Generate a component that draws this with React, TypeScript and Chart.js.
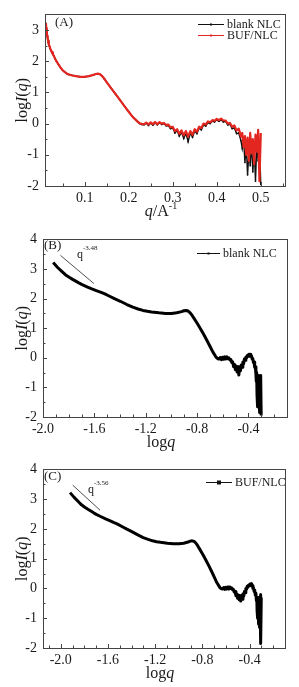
import React, { useEffect, useRef } from "react";
import { Chart, registerables } from "chart.js";
Chart.register(...registerables);

// ---- data ----
const Q = [
  0.012, 0.013, 0.014, 0.015, 0.016, 0.017, 0.018, 0.019, 0.02, 0.022, 0.024, 0.026, 0.028, 0.03,
  0.033, 0.036, 0.04, 0.045, 0.05, 0.055, 0.06, 0.065, 0.07, 0.08, 0.09, 0.1, 0.11, 0.12, 0.125,
  0.13, 0.135, 0.14, 0.145, 0.15, 0.16, 0.17, 0.18, 0.19, 0.2, 0.21, 0.22, 0.225, 0.23,
  0.235, 0.24, 0.245, 0.25, 0.255, 0.26, 0.265, 0.27, 0.275, 0.28, 0.285, 0.29, 0.295, 0.3,
  0.305, 0.31, 0.315, 0.32, 0.325, 0.33, 0.335, 0.34, 0.345, 0.35, 0.355, 0.36, 0.365, 0.37,
  0.375, 0.38, 0.385, 0.39, 0.395, 0.4, 0.405, 0.41, 0.415, 0.42, 0.425, 0.43, 0.435, 0.44,
  0.445, 0.45, 0.455, 0.458, 0.461, 0.464, 0.467, 0.47, 0.473, 0.476, 0.479, 0.482, 0.485,
  0.488, 0.491, 0.494, 0.497, 0.5,
];
const BLANK = [
  3.22, 3.05, 2.92, 2.8, 2.72, 2.65, 2.59, 2.53, 2.48, 2.4, 2.33, 2.27, 2.22, 2.17,
  2.08, 2.0, 1.91, 1.8, 1.71, 1.65, 1.6, 1.57, 1.55, 1.52, 1.5, 1.5, 1.52, 1.56, 1.59,
  1.6, 1.58, 1.52, 1.43, 1.33, 1.14, 0.95, 0.76, 0.57, 0.38, 0.2, 0.06, 0.0, -0.03,
  -0.04, 0.01, -0.06, 0.02, -0.05, 0.03, -0.04, 0.03, -0.03, 0.0, -0.07, -0.06, -0.16, -0.14,
  -0.3, -0.22, -0.4, -0.28, -0.48, -0.3, -0.58, -0.3, -0.44, -0.24, -0.32, -0.14, -0.2, -0.04,
  -0.08, 0.03, 0.0, 0.08, 0.05, 0.12, 0.07, 0.12, 0.05, 0.07, -0.04, -0.02, -0.16, -0.14,
  -0.32, -0.3, -0.55, -0.8, -0.5, -1.25, -0.7, -1.65, -0.9, -1.35, -0.6, -1.55, -0.75,
  -1.85, -0.65, -1.2, -0.6, -1.95,
];
const BUF = [
  3.22, 3.06, 2.93, 2.81, 2.73, 2.66, 2.6, 2.54, 2.49, 2.41, 2.34, 2.28, 2.22, 2.17,
  2.08, 2.0, 1.91, 1.8, 1.71, 1.65, 1.6, 1.57, 1.55, 1.52, 1.5, 1.5, 1.52, 1.56, 1.59,
  1.6, 1.58, 1.52, 1.43, 1.33, 1.14, 0.95, 0.76, 0.57, 0.38, 0.2, 0.07, 0.01, -0.01,
  -0.02, 0.03, -0.03, 0.04, -0.02, 0.05, -0.02, 0.05, 0.0, 0.02, -0.04, -0.03, -0.12, -0.1,
  -0.24, -0.18, -0.33, -0.22, -0.38, -0.24, -0.42, -0.24, -0.36, -0.18, -0.26, -0.1, -0.14, 0.0,
  -0.03, 0.07, 0.04, 0.11, 0.09, 0.15, 0.11, 0.16, 0.1, 0.1, 0.0, 0.02, -0.1, -0.06,
  -0.22, -0.16, -0.42, -0.3, -0.75, -0.4, -1.0, -0.45, -1.2, -0.3, -0.95, -0.5, -1.3,
  -0.35, -0.9, -0.2, -1.85, -0.3,
];
const A_X_TICKS = [0.1, 0.2, 0.3, 0.4, 0.5];
const A_Y_TICKS = [-2, -1, 0, 1, 2, 3];
const LOG_X_TICKS = [-2.0, -1.6, -1.2, -0.8, -0.4];
const LOG_Y_TICKS = [-2, -1, 0, 1, 2, 3, 4];
const SLOPE_B_X = [-1.864, -1.604];
const SLOPE_B_Y = [3.46, 2.51];
const SLOPE_C_X = [-1.898, -1.667];
const SLOPE_C_Y = [3.47, 2.63];
const LABEL_BLANK = "blank NLC";
const LABEL_BUF = "BUF/NLC";
const SLOPE_B_TEXT = "-3.48";
const SLOPE_C_TEXT = "-3.56";

const RED = "#e3261f";
const INK = "#1a1a1a";
const FONT = '"Liberation Serif", "DejaVu Serif", serif';

type Part = { t: string; i?: boolean; sup?: boolean };

function drawRich(ctx: CanvasRenderingContext2D, parts: Part[], x: number, y: number, size: number, align: "left" | "center") {
  const fontFor = (p: Part) => `${p.i ? "italic " : ""}${p.sup ? Math.round(size * 0.62) : size}px ${FONT}`;
  let total = 0;
  const widths = parts.map((p) => {
    ctx.font = fontFor(p);
    const w = ctx.measureText(p.t).width;
    total += w;
    return w;
  });
  let cx = align === "center" ? x - total / 2 : x;
  ctx.textAlign = "left";
  ctx.textBaseline = "alphabetic";
  parts.forEach((p, k) => {
    ctx.font = fontFor(p);
    ctx.fillText(p.t, cx, y + (p.sup ? -size * 0.42 : 0));
    cx += widths[k];
  });
}

type LegendItem = { label: string; color: string; y: number; x0: number; x1: number; marker: "dot" | "rect" };
type Panel = {
  top: number; height: number; yW: number; padTop: number; padRight: number; xH: number;
  xMin: number; xMax: number; yMin: number; yMax: number;
  xTicks: number[]; yTicks: number[]; xMinorStart: number; xMinorStep: number;
  datasets: any[];
  panelLabel: string; panelLabelPos: [number, number];
  xTitle: Part[];
  slopeText?: string; slopePos?: [number, number];
  legend: LegendItem[];
};

const yTitle: Part[] = [{ t: "log" }, { t: "I", i: true }, { t: "(" }, { t: "q", i: true }, { t: ")" }];

function makeChart(canvas: HTMLCanvasElement, p: Panel) {
  const deco = {
    id: "deco",
    afterDraw(chart: any) {
      const ctx: CanvasRenderingContext2D = chart.ctx;
      const { left, top, right, bottom } = chart.chartArea;
      const xs = chart.scales.x;
      const ys = chart.scales.y;
      ctx.save();
      // frame
      ctx.strokeStyle = "#444";
      ctx.lineWidth = 1;
      ctx.strokeRect(Math.round(left) + 0.5, Math.round(top) + 0.5, Math.round(right - left), Math.round(bottom - top));
      // inner ticks
      ctx.beginPath();
      for (let v = p.xMinorStart; v <= p.xMax + 1e-9; v += p.xMinorStep) {
        if (v < p.xMin - 1e-9) continue;
        const px = Math.round(xs.getPixelForValue(v)) + 0.5;
        const major = p.xTicks.some((t) => Math.abs(t - v) < 1e-6);
        ctx.moveTo(px, bottom);
        ctx.lineTo(px, bottom - (major ? 4 : 2.5));
      }
      for (let v = p.yMin; v <= p.yMax + 1e-9; v += 0.5) {
        const py = Math.round(ys.getPixelForValue(v)) + 0.5;
        const major = Math.abs(v - Math.round(v)) < 1e-6;
        ctx.moveTo(left, py);
        ctx.lineTo(left + (major ? 4 : 2.5), py);
      }
      ctx.stroke();
      // titles
      ctx.fillStyle = INK;
      drawRich(ctx, p.xTitle, (left + right) / 2 - 4, bottom + 30, 16, "center");
      ctx.save();
      ctx.translate(27, (top + bottom) / 2);
      ctx.rotate(-Math.PI / 2);
      drawRich(ctx, yTitle, 0, 0, 16, "center");
      ctx.restore();
      // panel label
      ctx.font = `13px ${FONT}`;
      ctx.textBaseline = "middle";
      ctx.textAlign = "left";
      ctx.fillText(p.panelLabel, p.panelLabelPos[0], p.panelLabelPos[1]);
      if (p.slopeText && p.slopePos) {
        drawRich(ctx, [{ t: "q" }], p.slopePos[0], p.slopePos[1], 12, "left");
        ctx.font = `7px ${FONT}`;
        ctx.textBaseline = "alphabetic";
        ctx.fillText(p.slopeText, p.slopePos[0] + 6, p.slopePos[1] - 8);
      }
      // legend
      p.legend.forEach((it) => {
        ctx.strokeStyle = it.color;
        ctx.fillStyle = it.color;
        ctx.lineWidth = 1;
        ctx.beginPath();
        ctx.moveTo(it.x0, it.y + 0.5);
        ctx.lineTo(it.x1, it.y + 0.5);
        ctx.stroke();
        const mx = (it.x0 + it.x1) / 2;
        if (it.marker === "rect") ctx.fillRect(mx - 2, it.y - 1.5, 4, 4);
        else ctx.fillRect(mx - 1, it.y - 0.5, 2, 2);
        ctx.fillStyle = INK;
        ctx.font = `12px ${FONT}`;
        ctx.textBaseline = "middle";
        ctx.textAlign = "left";
        ctx.fillText(it.label, it.x1 + 3, it.y + 1);
      });
      ctx.restore();
    },
  };

  return new Chart(canvas, {
    type: "line",
    data: { datasets: p.datasets },
    options: {
      animation: false,
      responsive: false,
      events: [],
      layout: { padding: { top: p.padTop, right: p.padRight, left: 0, bottom: 0 } },
      plugins: { legend: { display: false }, tooltip: { enabled: false } },
      scales: {
        x: {
          type: "linear",
          min: p.xMin,
          max: p.xMax,
          afterBuildTicks: (s: any) => { s.ticks = p.xTicks.map((v) => ({ value: v })); },
          afterFit: (s: any) => { s.height = p.xH; },
          grid: { display: false, drawTicks: false },
          border: { display: false },
          ticks: { color: INK, font: { family: FONT, size: 14 }, padding: 4, maxRotation: 0, autoSkip: false, callback: (v: any) => Number(v).toFixed(1) },
        },
        y: {
          type: "linear",
          min: p.yMin,
          max: p.yMax,
          afterBuildTicks: (s: any) => { s.ticks = p.yTicks.map((v) => ({ value: v })); },
          afterFit: (s: any) => { s.width = p.yW; },
          grid: { display: false, drawTicks: false },
          border: { display: false },
          ticks: { color: INK, font: { family: FONT, size: 14 }, padding: 6, autoSkip: false, callback: (v: any) => String(v) },
        },
      },
    },
    plugins: [deco],
  } as any);
}

const linPts = (ys: number[]) => Q.map((q, i) => ({ x: q, y: ys[i] }));
const logPts = (ys: number[]) => Q.map((q, i) => ({ x: Math.log10(q), y: ys[i] }));
const slopePts = (xs: number[], ys: number[]) => xs.map((x, i) => ({ x, y: ys[i] }));

const PANELS: Panel[] = [
  {
    top: 0, height: 225, yW: 45, padTop: 7, padRight: 14, xH: 39,
    xMin: 0.01, xMax: 0.555, yMin: -2, yMax: 3.5,
    xTicks: A_X_TICKS, yTicks: A_Y_TICKS, xMinorStart: 0.05, xMinorStep: 0.05,
    datasets: [
      { label: LABEL_BUF, data: linPts(BUF), borderColor: RED, backgroundColor: RED, borderWidth: 2.2, pointRadius: 0, borderJoinStyle: "round", tension: 0, order: 0 },
      { label: LABEL_BLANK, data: linPts(BLANK), borderColor: "#111", backgroundColor: "#111", borderWidth: 1.4, pointRadius: 1, pointBorderWidth: 0, pointStyle: "rect", tension: 0, order: 1 },
    ],
    panelLabel: "(A)", panelLabelPos: [55, 23],
    xTitle: [{ t: "q", i: true }, { t: "/A" }, { t: "-1", sup: true }],
    legend: [
      { label: LABEL_BLANK, color: "#111", y: 24, x0: 198, x1: 224, marker: "dot" },
      { label: LABEL_BUF, color: RED, y: 35, x0: 198, x1: 224, marker: "dot" },
    ],
  },
  {
    top: 225, height: 230, yW: 43, padTop: 13, padRight: 12, xH: 38,
    xMin: -2.0, xMax: -0.1, yMin: -2, yMax: 4,
    xTicks: LOG_X_TICKS, yTicks: LOG_Y_TICKS, xMinorStart: -2.0, xMinorStep: 0.1,
    datasets: [
      { label: LABEL_BLANK, data: logPts(BLANK), borderColor: "#000", backgroundColor: "#000", borderWidth: 3, borderJoinStyle: "round", pointRadius: 0, tension: 0 },
      { label: "slope", data: slopePts(SLOPE_B_X, SLOPE_B_Y), borderColor: "#222", borderWidth: 0.8, pointRadius: 0, tension: 0 },
    ],
    panelLabel: "(B)", panelLabelPos: [44, 21],
    xTitle: [{ t: "log" }, { t: "q", i: true }],
    slopeText: SLOPE_B_TEXT, slopePos: [77, 33],
    legend: [{ label: LABEL_BLANK, color: "#111", y: 28, x0: 197, x1: 220, marker: "dot" }],
  },
  {
    top: 455, height: 232, yW: 43, padTop: 13, padRight: 14, xH: 39,
    xMin: -2.15, xMax: -0.1, yMin: -2, yMax: 4,
    xTicks: LOG_X_TICKS, yTicks: LOG_Y_TICKS, xMinorStart: -2.1, xMinorStep: 0.1,
    datasets: [
      { label: LABEL_BUF, data: logPts(BUF), borderColor: "#000", backgroundColor: "#000", borderWidth: 3, borderJoinStyle: "round", pointRadius: 0, tension: 0 },
      { label: "slope", data: slopePts(SLOPE_C_X, SLOPE_C_Y), borderColor: "#222", borderWidth: 0.8, pointRadius: 0, tension: 0 },
    ],
    panelLabel: "(C)", panelLabelPos: [44, 22],
    xTitle: [{ t: "log" }, { t: "q", i: true }],
    slopeText: SLOPE_C_TEXT, slopePos: [88, 38],
    legend: [{ label: LABEL_BUF, color: "#111", y: 27, x0: 206, x1: 232, marker: "rect" }],
  },
];

function PanelChart({ p }: { p: Panel }) {
  const ref = useRef<HTMLCanvasElement>(null);
  useEffect(() => {
    if (!ref.current) return;
    const c = makeChart(ref.current, p);
    return () => c.destroy();
  }, [p]);
  return (
    <canvas
      ref={ref}
      width={299}
      height={p.height}
      style={{ position: "absolute", left: 0, top: p.top, width: 299, height: p.height, display: "block" }}
    />
  );
}

export default function App() {
  return (
    <div style={{ position: "absolute", left: 0, top: 0, width: 299, height: 687, background: "#fff", overflow: "hidden" }}>
      {PANELS.map((p, i) => (
        <PanelChart key={i} p={p} />
      ))}
    </div>
  );
}
